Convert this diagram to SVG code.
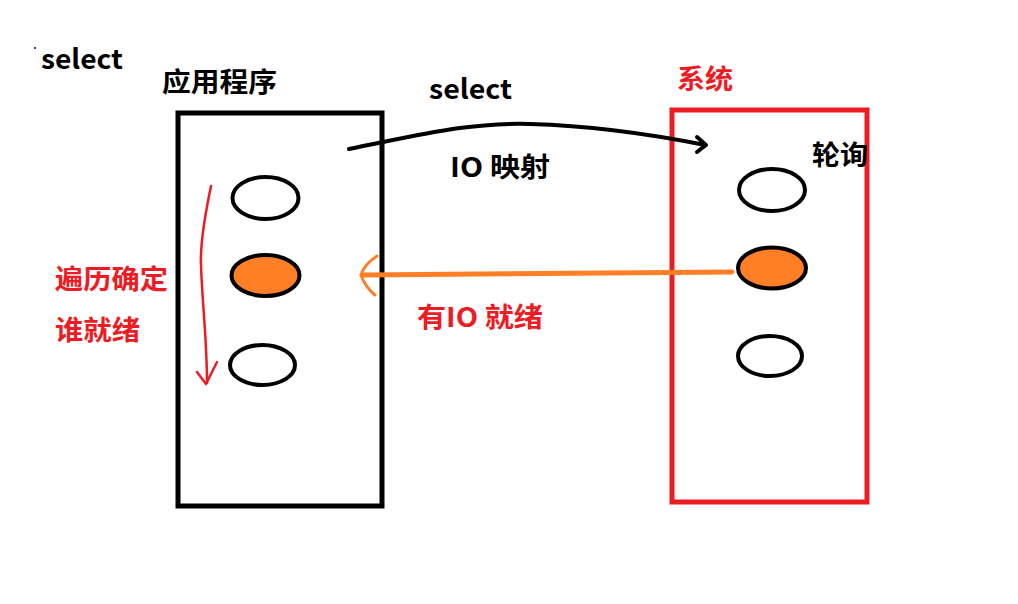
<svg xmlns="http://www.w3.org/2000/svg" width="1018" height="604" viewBox="0 0 1018 604">
<style>
.t{font-family:"Noto Sans CJK SC","Liberation Sans",sans-serif;font-weight:bold;font-size:27px;fill:#000}
.r{fill:#ed1c24}
.ell{fill:#fff;stroke:#000;stroke-width:4}
.on{fill:#ff7f27}
.box{fill:none;stroke-width:5}
</style>
<rect width="1018" height="604" fill="#fff"/>
<g id="title">
<rect x="34" y="47" width="2" height="2" fill="#444"/>
<text class="t" x="41" y="69" textLength="82" lengthAdjust="spacingAndGlyphs">select</text>
</g>
<g id="app">
<rect class="box" x="178" y="113" width="204" height="393" stroke="#000"/>
<text class="t" x="162" y="92" textLength="115" lengthAdjust="spacingAndGlyphs">应用程序</text>
<ellipse class="ell" cx="265.5" cy="198" rx="33" ry="21"/>
<ellipse class="ell on" cx="265.5" cy="275.5" rx="34" ry="20.5"/>
<ellipse class="ell" cx="262.5" cy="365" rx="32.5" ry="20"/>
</g>
<g id="system">
<rect class="box" x="672" y="110" width="195" height="392" stroke="#ed1c24"/>
<text class="t r" x="677" y="89" textLength="56" lengthAdjust="spacingAndGlyphs">系统</text>
<text class="t" x="812" y="165" textLength="56" lengthAdjust="spacingAndGlyphs">轮询</text>
<ellipse class="ell" cx="772" cy="190" rx="33" ry="21"/>
<ellipse class="ell on" cx="772" cy="268" rx="34" ry="20.5"/>
<ellipse class="ell" cx="770" cy="356" rx="32" ry="20"/>
</g>
<g id="labels">
<text class="t" x="429" y="99" textLength="83" lengthAdjust="spacingAndGlyphs">select</text>
<text class="t" x="450" y="177" textLength="100" lengthAdjust="spacingAndGlyphs">IO 映射</text>
<text class="t r" x="55" y="289" textLength="113" lengthAdjust="spacingAndGlyphs">遍历确定</text>
<text class="t r" x="55" y="340" textLength="85" lengthAdjust="spacingAndGlyphs">谁就绪</text>
<text class="t r" x="417" y="327" textLength="126" lengthAdjust="spacingAndGlyphs">有IO 就绪</text>
</g>
<g id="connectors" fill="none" stroke-linecap="round" stroke-linejoin="round">
<path d="M349 149 C420 135 470 122 530 124 C600 126 660 136 705 145" stroke="#000" stroke-width="4"/>
<path d="M697 137 L706 145 L697 152" stroke="#000" stroke-width="4"/>
<path d="M732 272 L362 275" stroke="#ff7f27" stroke-width="5"/>
<path d="M377 256 C368 262 363 268 361 275 C364 284 369 290 375 295" stroke="#ff7f27" stroke-width="3"/>
<path d="M211 186 C205 215 200 245 201 265 C202 300 207 340 207 383" stroke="#ed1c24" stroke-width="2.5"/>
<path d="M197 372 L206 384 L217 362" stroke="#ed1c24" stroke-width="2.5"/>
</g>
</svg>
